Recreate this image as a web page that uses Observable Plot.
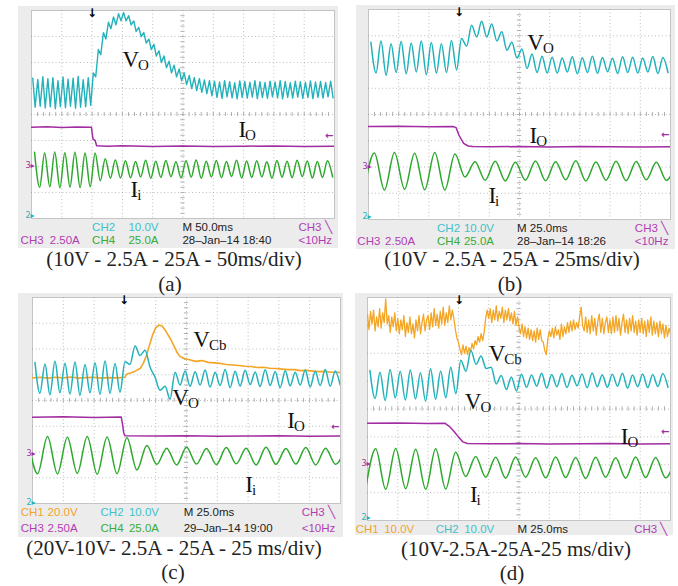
<!DOCTYPE html>
<html><head><meta charset="utf-8">
<script src="https://cdn.jsdelivr.net/npm/d3@7"></script>
<script src="https://cdn.jsdelivr.net/npm/@observablehq/plot@0.6"></script>
<style>
body{margin:0;background:#fff;}
#root{position:relative;width:678px;height:586px;overflow:hidden;background:#fff;}
.pl{position:absolute;}
.cap{position:absolute;font-family:'Liberation Serif','Times New Roman',serif;font-size:21px;color:#222;white-space:nowrap;transform:translate(-50%,-50%);line-height:1;}
</style></head><body><div id="root"></div>
<script>
// ---------- data (screen divisions: x 0..10, y 0..8 from bottom) ----------
// Panel (a) 50 ms/div
const voA_hi = [5.40,5.35,5.45,5.38,5.42,5.30,5.44,5.36,5.40,5.46,5.34,5.42,
  5.60,6.50,7.15,7.55,7.75,7.88,7.92,7.80,7.60,7.35,7.15,6.90,6.70,6.45,6.25,6.05,5.90,5.75,5.60,5.50,5.42,5.38,5.33,5.30,
  5.28,5.25,5.30,5.26,5.22,5.29,5.27,5.24,5.30,5.26,5.23,5.28,5.25,5.30,5.27,5.22,5.28,5.26,5.24,5.29,5.25,5.27,5.23,5.28];
const voA_lo = [4.28,4.32,4.25,4.30,4.22,4.30,4.26,4.32,4.24,4.28,4.30,4.35,
  5.45,6.30,6.90,7.30,7.45,7.60,7.60,7.45,7.20,7.00,6.75,6.50,6.25,6.00,5.80,5.60,5.45,5.30,5.15,5.00,4.92,4.85,4.80,4.72,
  4.66,4.62,4.68,4.64,4.60,4.66,4.63,4.67,4.61,4.65,4.62,4.68,4.64,4.60,4.66,4.63,4.67,4.62,4.65,4.61,4.66,4.63,4.68,4.64];
const iiA_hi = [2.55,2.52,2.56,2.53,2.55,2.52,2.52,2.30,2.25,
  2.22,2.19,2.24,2.20,2.23,2.18,2.22,2.25,2.20,2.23,2.19,2.24,2.21,2.22,2.18,2.23,2.20,2.24,2.21,2.19,2.22];
const iiA_lo = [1.20,1.22,1.18,1.21,1.19,1.22,1.45,1.55,1.56,
  1.57,1.60,1.55,1.58,1.61,1.56,1.59,1.55,1.60,1.57,1.62,1.56,1.58,1.60,1.55,1.59,1.57,1.61,1.56,1.58,1.60];
const ioA_t = [0,0.5,1,1.5,1.98,2.0,2.03,2.1,2.15,2.5,3,4,5,6,7,8,9,10];
const ioA_v = [3.51,3.53,3.50,3.52,3.51,3.30,3.05,3.00,2.80,2.78,2.80,2.77,2.79,2.77,2.78,2.79,2.77,2.78];

// Panel (b) 25 ms/div
const voB_hi = [6.75,6.80,6.70,6.78,6.72,6.80,6.74,6.70,6.82,
  6.90,7.40,7.55,7.45,7.15,6.75,6.50,6.30,6.22,
  6.18,6.15,6.20,6.16,6.22,6.17,6.14,6.20,6.18,6.15,6.21,6.17];
const voB_lo = [5.58,5.50,5.60,5.55,5.62,5.52,5.58,5.60,5.70,
  6.60,6.95,6.95,6.80,6.45,6.15,5.75,5.60,5.58,
  5.58,5.62,5.55,5.60,5.57,5.63,5.56,5.60,5.58,5.62,5.56,5.60];
const iiB_v = [1.14,2.53,1.12,2.55,1.15,2.52,1.13,2.55,1.12,2.50,1.62,2.20,1.50,2.22,1.47,2.18,
  1.50,2.23,1.48,2.20,1.51,2.24,1.47,2.19,1.50,2.22,1.48,2.21,1.51,2.18,1.49,2.22];
const ioB_t = [0,1,2,2.8,2.9,3.0,3.15,3.3,3.45,4,5,6,7,8,9,10];
const ioB_v = [3.54,3.55,3.53,3.54,3.50,3.20,2.90,2.80,2.78,2.77,2.78,2.76,2.78,2.77,2.76,2.77];

// Panel (c) 25 ms/div
const voC_hi = [5.48,5.42,5.52,5.45,5.50,5.40,5.47,5.53,5.44,
  5.50,6.12,5.95,4.90,4.55,5.10,
  5.15,5.12,5.18,5.10,5.20,5.14,5.17,5.11,5.19,5.13,5.16,5.10,5.18,5.14,5.20,5.15];
const voC_lo = [4.28,4.22,4.30,4.25,4.20,4.30,4.24,4.28,4.32,
  5.40,5.75,5.30,4.40,4.05,4.60,
  4.55,4.60,4.52,4.58,4.50,4.56,4.62,4.54,4.58,4.50,4.57,4.60,4.53,4.58,4.55,4.60];
const vcbC_t = [0,0.25,0.5,0.75,1,1.25,1.5,1.75,2,2.25,2.5,2.75,3.0,3.05,3.2,3.35,3.5,3.6,3.7,3.8,3.9,4.0,4.1,4.2,4.3,4.4,4.5,4.6,4.7,4.8,4.95,5.1,5.3,5.5,5.7,5.9,6.1,6.3,6.5,6.7,6.9,7.1,7.3,7.5,7.7,7.9,8.1,8.3,8.5,8.7,8.9,9.1,9.3,9.5,9.7,9.9,10];
const vcbC_v = [4.88,4.90,4.87,4.90,4.88,4.91,4.87,4.89,4.90,4.87,4.89,4.88,4.90,5.02,5.08,5.15,5.25,5.45,5.75,6.15,6.55,6.82,6.93,6.90,6.75,6.55,6.35,6.10,5.85,5.70,5.62,5.58,5.52,5.55,5.48,5.46,5.44,5.40,5.38,5.36,5.33,5.32,5.28,5.29,5.25,5.24,5.22,5.20,5.20,5.16,5.17,5.14,5.12,5.13,5.10,5.10,5.08];
const iiC_v = [2.58,1.16,2.60,1.15,2.57,1.17,2.60,1.14,2.58,1.16,2.55,1.30,2.25,1.52,2.15,1.50,2.18,
  1.53,2.14,1.51,2.17,1.54,2.15,1.50,2.18,1.52,2.14,1.53,2.17,1.50,2.15,1.52,2.16];
const ioC_t = [0,1,2,2.88,2.92,2.96,3.0,4,5,6,7,8,9,10];
const ioC_v = [3.35,3.37,3.34,3.36,3.10,2.75,2.63,2.62,2.63,2.61,2.62,2.63,2.61,2.62];

// Panel (d) 25 ms/div
const voD_hi = [5.38,5.32,5.42,5.35,5.40,5.30,5.44,5.36,5.50,
  5.75,6.10,5.90,5.50,5.20,5.15,
  5.25,5.22,5.28,5.24,5.27,5.21,5.26,5.29,5.23,5.25,5.28,5.22,5.26,5.24,5.27];
const voD_lo = [4.38,4.30,4.40,4.32,4.36,4.28,4.35,4.40,4.55,
  5.35,5.60,5.45,4.90,4.70,4.65,
  4.78,4.82,4.75,4.80,4.77,4.83,4.76,4.80,4.78,4.82,4.75,4.80,4.77,4.81,4.78];
const vcbD_v = [
  7.4,6.85,7.5,7.05,7.55,6.8,7.3,6.95,7.6,6.9,7.45,7.1,7.95,7.05,7.35,6.75,7.3,6.95,7.45,6.8,
  7.25,6.7,7.2,6.85,7.35,6.6,7.1,6.75,7.3,6.7,7.05,6.55,7.2,6.8,7.35,6.7,7.1,7.4,6.8,7.2,
  7.35,6.85,7.45,6.95,7.6,7.0,7.4,6.9,7.5,7.05,7.65,7.0,7.45,7.1,7.7,7.2,7.55,7.25,6.85,6.55,
  6.4,6.15,5.95,6.3,6.0,6.25,5.95,6.2,6.05,6.35,6.15,6.45,6.3,6.6,6.4,6.7,6.45,6.75,7.25,7.55,
  7.25,7.6,7.1,7.55,7.2,7.7,7.15,7.5,7.25,7.65,7.1,7.55,7.2,7.6,7.15,7.45,7.05,7.5,7.0,7.3,
  6.95,6.7,7.05,6.6,6.95,6.55,6.9,6.5,6.85,6.45,6.8,6.4,6.9,6.5,6.85,6.45,6.4,6.1,5.95,6.5,
  6.8,6.6,6.9,6.55,6.95,6.65,6.85,6.5,7.05,6.6,6.95,6.7,7.1,6.75,7.15,6.8,7.2,6.85,7.1,6.9,
  7.3,7.65,7.0,6.8,7.3,6.75,7.2,6.7,7.35,6.8,7.25,6.65,7.15,7.4,6.75,7.25,6.7,7.1,7.3,6.75,
  7.2,6.7,7.3,6.75,7.35,6.8,7.25,6.65,7.1,7.4,6.75,7.2,6.7,7.25,6.8,7.35,6.75,7.15,6.65,7.2,
  6.75,7.25,6.7,7.15,6.6,7.2,6.75,7.3,6.65,7.15,6.7,7.1,6.6,7.15,6.7,7.05,6.55,7.0,6.6,6.9,
  6.7];
const iiD_v = [1.13,2.57,1.12,2.58,1.14,2.56,1.12,2.57,1.13,2.45,1.58,2.30,1.55,2.27,1.52,2.28,
  1.55,2.25,1.53,2.28,1.54,2.26,1.51,2.27,1.55,2.25,1.52,2.28,1.54,2.26,1.53,2.27];
const ioD_t = [0,1,2,2.55,2.7,2.85,3.0,3.15,3.3,4,5,6,7,8,9,10];
const ioD_v = [3.49,3.50,3.48,3.49,3.38,3.20,3.00,2.82,2.76,2.75,2.76,2.74,2.75,2.76,2.74,2.75];

// text
const captions = ["(10V - 2.5A - 25A - 50ms/div)","(10V - 2.5A - 25A - 25ms/div)","(20V-10V- 2.5A - 25A - 25 ms/div)","(10V-2.5A-25A-25 ms/div)"];
const letters = ["(a)","(b)","(c)","(d)"];

// ---------- helpers ----------
const SERIF = "'Liberation Serif','Times New Roman',serif";
const SANS = "'Liberation Sans',Arial,sans-serif";
const COL = {cyan:"#22b2bb", mag:"#a22ca2", green:"#2da82d", orange:"#f4a524"};
const TXT = {cyan:"#3cc2cb", mag:"#b23cb4", green:"#38ab38", orange:"#f2a42c", blk:"#222"};

function cyc(hi, lo, P, tp, tt){ const o=[]; hi.forEach((h,k)=>{o.push({t:k*P+tp,v:h});o.push({t:k*P+tt,v:lo[k]});}); return o; }
function ext(vals, t0, h){ return vals.map((v,i)=>({t:t0+i*h, v})); }
function pairs(ts, vs){ return ts.map((t,i)=>({t, v:vs[i]})); }

function infoRows(y1, y2, xs, row1, row2){
  const o=[];
  row1.forEach(([s,c],i)=>{ if(s) o.push({s, c, x:xs[i], y:y1}); });
  if(row2) row2.forEach(([s,c],i)=>{ if(s) o.push({s, c, x:xs[i], y:y2}); });
  return o;
}

function panel(p){
  const marks = [
    Plot.frame({fill:"#fff", stroke:"#c4c4c4"}),
    Plot.gridX(d3.range(1,10), {stroke:"#8a8a8a", strokeOpacity:0.55, strokeDasharray:"1,2.5"}),
    Plot.gridY(d3.range(1,8), {stroke:"#8a8a8a", strokeOpacity:0.55, strokeDasharray:"1,2.5"}),
    Plot.ruleY(d3.range(0.2,7.99,0.2), {x1:4.93, x2:5.07, stroke:"#b0b0b0"}),
    Plot.ruleX(d3.range(0.2,9.99,0.2), {y1:3.92, y2:4.08, stroke:"#b0b0b0"}),
  ];
  p.traces.forEach(tr=>marks.push(Plot.line(tr.data, {x:"t", y:"v", stroke:tr.color, strokeWidth:tr.w||1.5, curve:tr.curve||"monotone-x", clip:true})));
  marks.push(Plot.text(p.labels, {x:"x", y:"y", text:"m", fontFamily:SERIF, fontSize:23, fill:"#111", textAnchor:"start", lineAnchor:"bottom"}));
  marks.push(Plot.text(p.labels, {x:"x", y:"y", text:"s", fontFamily:SERIF, fontSize:15, fill:"#111", textAnchor:"start", lineAnchor:"bottom"}));
  marks.push(Plot.text([p.trig], {x:d=>d, y:()=>8, text:()=>"↓", fontFamily:"DejaVu Sans", fontWeight:"bold", fontSize:12, fill:"#000", lineAnchor:"top", dy:-2}));
  marks.push(Plot.text([p.mk[0]], {x:()=>10, y:d=>d, text:()=>"←", fontFamily:"DejaVu Sans", fontWeight:"bold", fontSize:10, fill:COL.mag, textAnchor:"end", dx:-1}));
  marks.push(Plot.text([p.mk[1]], {x:()=>0, y:d=>d, text:()=>"3▸", fontFamily:"DejaVu Sans", fontSize:8, fill:COL.mag, textAnchor:"end", dx:3}));
  marks.push(Plot.text([p.mk[2]], {x:()=>0, y:d=>d, text:()=>"2▸", fontFamily:"DejaVu Sans", fontSize:8, fill:COL.cyan, textAnchor:"end", dx:3}));
  marks.push(Plot.text(p.info, {x:"x", y:"y", text:"s", fill:"c", fontFamily:SANS, fontSize:11.5, textAnchor:"start"}));
  const svg = Plot.plot({
    width:p.W+p.m[3]+p.m[1], height:p.H+p.m[0]+p.m[2],
    marginTop:p.m[0], marginRight:p.m[1], marginBottom:p.m[2], marginLeft:p.m[3],
    x:{domain:[0,10], axis:null}, y:{domain:[0,8], axis:null},
    color:{type:"identity"},
    style:{background:"#ececec", overflow:"visible"},
    marks
  });
  svg.classList.add("pl");
  svg.style.left = (p.sx - p.m[3]) + "px";
  svg.style.top = (p.sy - p.m[0]) + "px";
  return svg;
}

const root = document.getElementById("root");

const panels = [
  { sx:31, sy:10, W:303, H:208, m:[4,4,30,13], trig:2.0, mk:[3.2,2.04,0.1],
    traces:[
      {data:cyc(voA_hi, voA_lo, 1/6, 0.04, 0.12), color:COL.cyan, curve:"linear", w:1.4},
      {data:pairs(ioA_t, ioA_v), color:COL.mag, curve:"linear"},
      {data:cyc(iiA_hi, iiA_lo, 1/3, 0.1, 0.27), color:COL.green}],
    labels:[{x:3.0,y:5.81,m:"V",s:"O"},{x:6.83,y:3.15,m:"I",s:"O"},{x:3.27,y:0.81,m:"I",s:"i"}],
    info: infoRows(-0.35,-0.85,[-0.36,0.6,2.0,3.2,4.98,8.81],
      [["",""],["",""],["CH2",TXT.cyan],["10.0V",TXT.cyan],["M 50.0ms",TXT.blk],["CH3 ╲",TXT.mag]],
      [["CH3",TXT.mag],["2.50A",TXT.mag],["CH4",TXT.green],["25.0A",TXT.green],["28–Jan–14 18:40",TXT.blk],["<10Hz",TXT.mag]])
  },
  { sx:368, sy:9, W:302, H:210, m:[4,5,30,12], trig:3.0, mk:[3.23,2.03,0.13],
    traces:[
      {data:cyc(voB_hi, voB_lo, 1/3, 0.08, 0.25), color:COL.cyan},
      {data:pairs(ioB_t, ioB_v), color:COL.mag, curve:"linear"},
      {data:ext(iiB_v, -0.14, 0.3335), color:COL.green}],
    labels:[{x:5.26,y:6.44,m:"V",s:"O"},{x:5.33,y:2.93,m:"I",s:"O"},{x:3.97,y:0.61,m:"I",s:"i"}],
    info: infoRows(-0.33,-0.83,[-0.37,0.55,2.27,3.16,4.92,8.82],
      [["",""],["",""],["CH2",TXT.cyan],["10.0V",TXT.cyan],["M 25.0ms",TXT.blk],["CH3 ╲",TXT.mag]],
      [["CH3",TXT.mag],["2.50A",TXT.mag],["CH4",TXT.green],["25.0A",TXT.green],["28–Jan–14 18:26",TXT.blk],["<10Hz",TXT.mag]])
  },
  { sx:32, sy:297, W:308, H:206, m:[4,3,34,14], trig:2.97, mk:[2.97,1.94,0.06],
    traces:[
      {data:pairs(vcbC_t, vcbC_v), color:COL.orange, curve:"linear", w:1.6},
      {data:cyc(voC_hi, voC_lo, 0.325, 0.08, 0.24), color:COL.cyan},
      {data:pairs(ioC_t, ioC_v), color:COL.mag, curve:"linear"},
      {data:ext(iiC_v, -0.158, 0.3225), color:COL.green}],
    labels:[{x:5.22,y:6.06,m:"V",s:"Cb"},{x:4.54,y:3.81,m:"V",s:"O"},{x:8.27,y:2.92,m:"I",s:"O"},{x:6.91,y:0.44,m:"I",s:"i"}],
    info: infoRows(-0.36,-0.97,[-0.38,0.49,2.21,3.13,4.91,8.74],
      [["CH1",TXT.orange],["20.0V",TXT.orange],["CH2",TXT.cyan],["10.0V",TXT.cyan],["M 25.0ms",TXT.blk],["CH3 ╲",TXT.mag]],
      [["CH3",TXT.mag],["2.50A",TXT.mag],["CH4",TXT.green],["25.0A",TXT.green],["29–Jan–14 19:00",TXT.blk],["<10Hz",TXT.mag]])
  },
  { sx:367, sy:297, W:303, H:223, m:[4,3,15,12], trig:3.02, mk:[3.17,2.03,0.12],
    traces:[
      {data:ext(vcbD_v, 0, 0.05), color:COL.orange, curve:"linear", w:1.3},
      {data:cyc(voD_hi, voD_lo, 1/3, 0.08, 0.25), color:COL.cyan},
      {data:pairs(ioD_t, ioD_v), color:COL.mag, curve:"linear"},
      {data:ext(iiD_v, -0.06, 0.33), color:COL.green}],
    labels:[{x:4.0,y:5.73,m:"V",s:"Cb"},{x:3.21,y:4.01,m:"V",s:"O"},{x:8.36,y:2.76,m:"I",s:"O"},{x:3.38,y:0.65,m:"I",s:"i"}],
    info: infoRows(-0.3,null,[-0.39,0.55,2.25,3.19,4.95,8.8],
      [["CH1",TXT.orange],["10.0V",TXT.orange],["CH2",TXT.cyan],["10.0V",TXT.cyan],["M 25.0ms",TXT.blk],["CH3 ╲",TXT.mag]], null)
  }
];

panels.forEach(p=>{ root.appendChild(panel(p)); });

// shift subscripts right by the width of their main letter, and down a little
root.querySelectorAll("svg.pl").forEach(svg=>{
  const gs = svg.querySelectorAll("g[aria-label='text']");
  if (gs.length < 2) return;
  const mains = gs[0].querySelectorAll("text"), subs = gs[1].querySelectorAll("text");
  subs.forEach((t,i)=>{
    const w = mains[i].getComputedTextLength();
    const tr = t.getAttribute("transform") || "";
    t.setAttribute("transform", tr + ` translate(${w-1},3)`);
  });
});

// captions
const capPos = [[174,259,170,284],[512,259,510,284],[174,548,173,572],[516,549,512,573]];
captions.forEach((c,i)=>{
  const [x1,y1,x2,y2] = capPos[i];
  const a = document.createElement("div"); a.className="cap"; a.textContent=c; a.style.left=x1+"px"; a.style.top=y1+"px"; root.appendChild(a);
  const b = document.createElement("div"); b.className="cap"; b.textContent=letters[i]; b.style.left=x2+"px"; b.style.top=y2+"px"; root.appendChild(b);
});
</script></body></html>
